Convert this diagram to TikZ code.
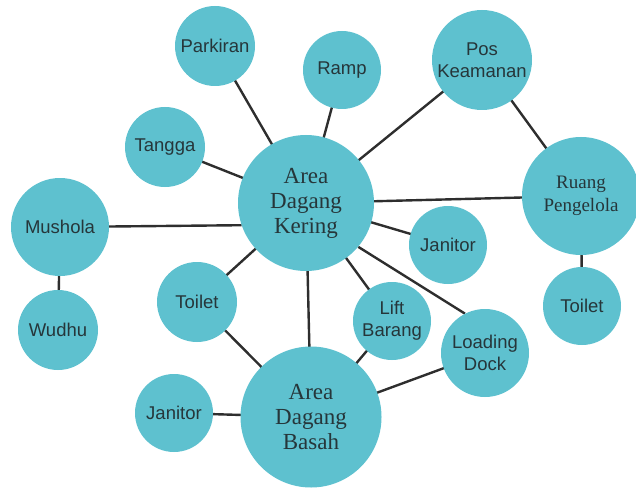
\documentclass[tikz,border=0pt]{standalone}
\usepackage{fontspec}
\setmainfont{Liberation Sans}
\newfontfamily\roomserif{Liberation Serif}
\usetikzlibrary{positioning,calc}

\definecolor{roomfill}{HTML}{5EC1CF}
\definecolor{roomtext}{HTML}{26363A}
\definecolor{linkcol}{HTML}{2E2E2E}

\pgfdeclarelayer{bg}
\pgfsetlayers{bg,main}

\begin{document}
\begin{tikzpicture}[
    x=1pt, y=-1pt,
    room/.style={circle, fill=roomfill, inner sep=0pt, align=center,
                 text=roomtext, font=\fontsize{18.5}{22}\selectfont},
    bigroom/.style={room, font=\roomserif\fontsize{23}{25}\selectfont},
    midroom/.style={room, font=\roomserif\fontsize{19}{23}\selectfont},
    link/.style={draw=linkcol, line width=2.4pt},
]
\useasboundingbox (0,0) rectangle (636,489);

% main areas
\node[bigroom, minimum size=136pt] (keri) at (306,203) {Area\\Dagang\\Kering};
\node[bigroom, minimum size=141pt] (basa) at (311,417) {Area\\Dagang\\Basah};

% around the dry area
\node[room, minimum size=80pt] (park) at (215,46) {Parkiran};
\node[room, minimum size=78pt] (ramp) at (342,70) {Ramp};
\node[room, minimum size=100pt] (posk) at (482,60) {Pos\\Keamanan};
\node[room, minimum size=80pt] (tang) at (165,147) {Tangga};
\node[midroom, minimum size=118pt] (peng) at (581,196) {Ruang\\Pengelola};
\node[room, minimum size=98pt] (mush) at (60,227) {Mushola};
\node[room, minimum size=80pt] (wudh) at (58,330) {Wudhu};
\node[room, minimum size=78pt] (jan1) at (448,245) {Janitor};
\node[room, minimum size=78pt] (toi2) at (582,306) {Toilet};
\node[room, minimum size=80pt] (toi1) at (197,302) {Toilet};
\node[room, minimum size=78pt] (lift) at (392,321) {Lift\\Barang};
\node[room, minimum size=88pt] (load) at (485,353) {Loading\\Dock};

% around the wet area
\node[room, minimum size=78pt] (jan2) at (174,413) {Janitor};

% connectors behind the circles
\begin{pgfonlayer}{bg}
\draw[link] (keri.center) -- (park.center);
\draw[link] (keri.center) -- (ramp.center);
\draw[link] (keri.center) -- (posk.center);
\draw[link] (keri.center) -- (tang.center);
\draw[link] (keri.199) -- (mush.center);
\draw[link] (keri.center) -- (peng.center);
\draw[link] (keri.center) -- (jan1.center);
\draw[link] (keri.center) -- (toi1.center);
\draw[link] (keri.center) -- (lift.center);
\draw[link] (keri.-40) -- (load.117);
\draw[link] (keri.center) -- (basa.center);
\draw[link] (posk.center) -- (peng.center);
\draw[link] (peng.center) -- (toi2.center);
\draw[link] (mush.center) -- (wudh.center);
\draw[link] (basa.center) -- (toi1.center);
\draw[link] (basa.center) -- (jan2.center);
\draw[link] (basa.center) -- (lift.center);
\draw[link] (basa.center) -- (load.center);
\end{pgfonlayer}

\end{tikzpicture}
\end{document}
